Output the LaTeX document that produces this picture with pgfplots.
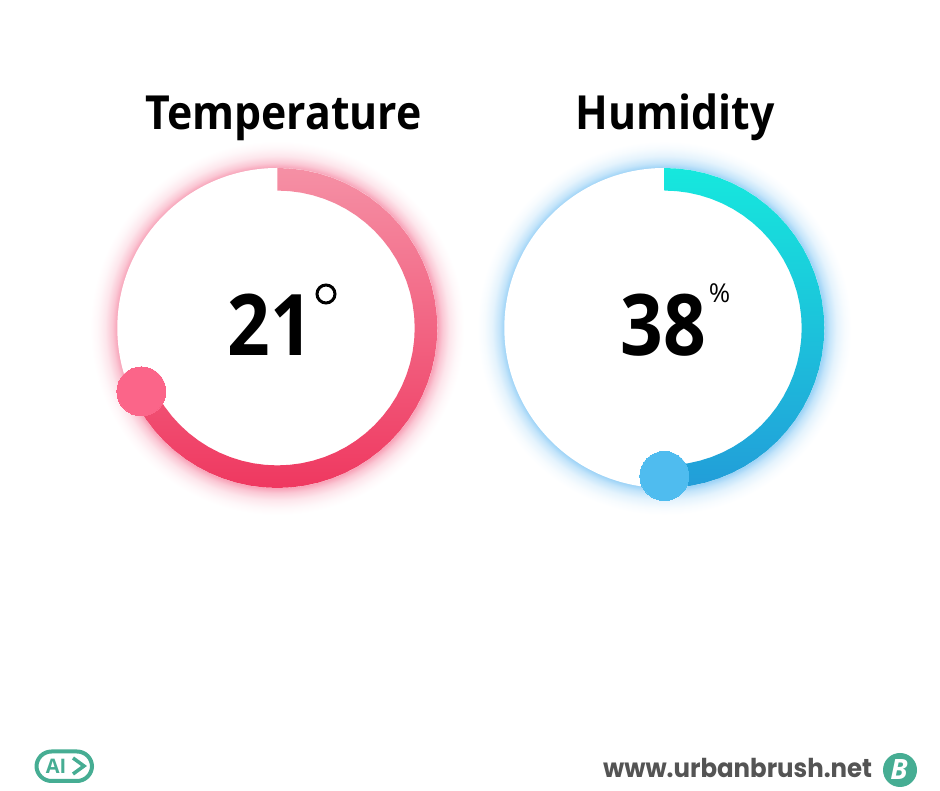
\documentclass[border=0pt]{standalone}
\usepackage{fontspec}
\usepackage{pgfplots}
\pgfplotsset{compat=1.18}
\setmainfont{Open Sans}
\newfontfamily\titlefont[FakeStretch=0.91]{Open Sans}
\newfontfamily\digitfont[FakeStretch=0.88]{Open Sans}
\newfontfamily\poppins[FakeStretch=0.94]{Poppins}
\definecolor{tTop}{HTML}{F590A5}
\definecolor{tMid}{HTML}{F36C89}
\definecolor{tBot}{HTML}{EF3860}
\definecolor{hTop}{HTML}{16E8DD}
\definecolor{hMid}{HTML}{1CC4DC}
\definecolor{hBot}{HTML}{229DD9}
\definecolor{tKnob}{HTML}{FB6589}
\definecolor{hKnob}{HTML}{4FBCEF}
\definecolor{brand}{HTML}{46AD93}
\definecolor{glowT}{HTML}{F583A0}
\definecolor{glowH}{HTML}{7CC4F4}
\pgfdeclareradialshading{glowTs}{\pgfpoint{0bp}{0bp}}{%
 color(0bp)=(glowT!75!white);color(21.39bp)=(glowT!75!white);
 color(22.06bp)=(glowT!45!white);color(23bp)=(glowT!20!white);
 color(24.06bp)=(glowT!6!white);color(25bp)=(white);color(50bp)=(white)}
\pgfdeclareradialshading{glowHs}{\pgfpoint{0bp}{0bp}}{%
 color(0bp)=(glowH!75!white);color(21.39bp)=(glowH!75!white);
 color(22.06bp)=(glowH!45!white);color(23bp)=(glowH!20!white);
 color(24.06bp)=(glowH!6!white);color(25bp)=(white);color(50bp)=(white)}
\pgfplotsset{gauge/.style={hide axis, clip=false, scale only axis, x=1pt, y=1pt,
  at={(0pt,0pt)}, anchor=south west}}
\newcommand\fs[1]{\fontsize{#1}{#1}\selectfont}
\begin{document}
\begin{tikzpicture}[x=1pt,y=1pt]
\path[use as bounding box, fill=white] (0,0) rectangle (940,791);
% Temperature: centre (277.3, 328) in image pixels
\begin{axis}[gauge, xmin=-277.3, xmax=662.7, ymin=-463, ymax=328]
\shade[shading=glowTs] (axis cs:0,0) circle[radius=187];
\fill[white] (axis cs:0,0) circle[radius=160];
\addplot[draw=none, top color=tTop, middle color=tMid, bottom color=tBot, data cs=polar] coordinates {
(90,160)(85,160)(80,160)(75,160)(70,160)(65,160)(60,160)(55,160)(50,160)(45,160)
(40,160)(35,160)(30,160)(25,160)(20,160)(15,160)(10,160)(5,160)(0,160)
(-5,160)(-10,160)(-15,160)(-20,160)(-25,160)(-30,160)(-35,160)(-40,160)(-45,160)(-50,160)
(-55,160)(-60,160)(-65,160)(-70,160)(-75,160)(-80,160)(-85,160)(-90,160)(-95,160)(-100,160)
(-105,160)(-110,160)(-115,160)(-120,160)(-125,160)(-130,160)(-135,160)(-140,160)(-145,160)(-150,160)(-155,160)
(-155,137.4)(-150,137.4)(-145,137.4)(-140,137.4)(-135,137.4)(-130,137.4)(-125,137.4)(-120,137.4)(-115,137.4)(-110,137.4)
(-105,137.4)(-100,137.4)(-95,137.4)(-90,137.4)(-85,137.4)(-80,137.4)(-75,137.4)(-70,137.4)(-65,137.4)(-60,137.4)
(-55,137.4)(-50,137.4)(-45,137.4)(-40,137.4)(-35,137.4)(-30,137.4)(-25,137.4)(-20,137.4)(-15,137.4)(-10,137.4)
(-5,137.4)(0,137.4)(5,137.4)(10,137.4)(15,137.4)(20,137.4)(25,137.4)(30,137.4)(35,137.4)(40,137.4)
(45,137.4)(50,137.4)(55,137.4)(60,137.4)(65,137.4)(70,137.4)(75,137.4)(80,137.4)(85,137.4)(90,137.4)(90,160)
};
\addplot[only marks, mark=*, mark size=24.5pt, mark options={fill=tKnob, draw=tKnob, line width=0pt}, data cs=polar] coordinates {(-155,150)};
\end{axis}
% Humidity: centre (664.3, 328) in image pixels
\begin{axis}[gauge, xmin=-664.3, xmax=275.7, ymin=-463, ymax=328]
\shade[shading=glowHs] (axis cs:0,0) circle[radius=187];
\fill[white] (axis cs:0,0) circle[radius=160];
\addplot[draw=none, top color=hTop, middle color=hMid, bottom color=hBot, data cs=polar] coordinates {
(90,160)(85,160)(80,160)(75,160)(70,160)(65,160)(60,160)(55,160)(50,160)(45,160)
(40,160)(35,160)(30,160)(25,160)(20,160)(15,160)(10,160)(5,160)(0,160)
(-5,160)(-10,160)(-15,160)(-20,160)(-25,160)(-30,160)(-35,160)(-40,160)(-45,160)(-50,160)
(-55,160)(-60,160)(-65,160)(-70,160)(-75,160)(-80,160)(-85,160)(-90,160)
(-90,137.4)(-85,137.4)(-80,137.4)(-75,137.4)(-70,137.4)(-65,137.4)(-60,137.4)
(-55,137.4)(-50,137.4)(-45,137.4)(-40,137.4)(-35,137.4)(-30,137.4)(-25,137.4)(-20,137.4)(-15,137.4)(-10,137.4)
(-5,137.4)(0,137.4)(5,137.4)(10,137.4)(15,137.4)(20,137.4)(25,137.4)(30,137.4)(35,137.4)(40,137.4)
(45,137.4)(50,137.4)(55,137.4)(60,137.4)(65,137.4)(70,137.4)(75,137.4)(80,137.4)(85,137.4)(90,137.4)(90,160)
};
\addplot[only marks, mark=*, mark size=24.5pt, mark options={fill=hKnob, draw=hKnob, line width=0pt}, data cs=polar] coordinates {(-90,148)};
\end{axis}
% Titles and values
\node[anchor=base, inner sep=0, text=black] at (283.5,661) {\titlefont\fs{47}\bfseries Temperature};
\node[anchor=base, inner sep=0, text=black] at (675,661) {\titlefont\fs{47}\bfseries Humidity};
\node[anchor=base, inner sep=0, text=black] at (270,435) {\digitfont\fs{85}\bfseries 21};
\node[anchor=base, inner sep=0, text=black] at (663,435) {\digitfont\fs{85}\bfseries 38};
\draw[black, line width=3pt] (326,497) circle[radius=9];
\node[anchor=base, inner sep=0, text=black] at (719.5,488) {\fs{26}\%};
% Footer
\draw[brand, line width=4pt, rounded corners=15pt] (36.5,10) rectangle (92,39.5);
\node[anchor=base, inner sep=0, text=brand] at (56,17) {\fs{20}\bfseries AI};
\draw[brand, line width=3.5pt] (73,33) -- (84,25) -- (73,17);
\node[anchor=base west, inner sep=0, text=black!67] at (603,13) {\poppins\fs{26}\bfseries www.urbanbrush.net};
\fill[brand] (900,21) circle[radius=17];
\node[anchor=base, inner sep=0, text=white] at (899,11) {\fs{28}\bfseries\itshape B};
\end{tikzpicture}
\end{document}
